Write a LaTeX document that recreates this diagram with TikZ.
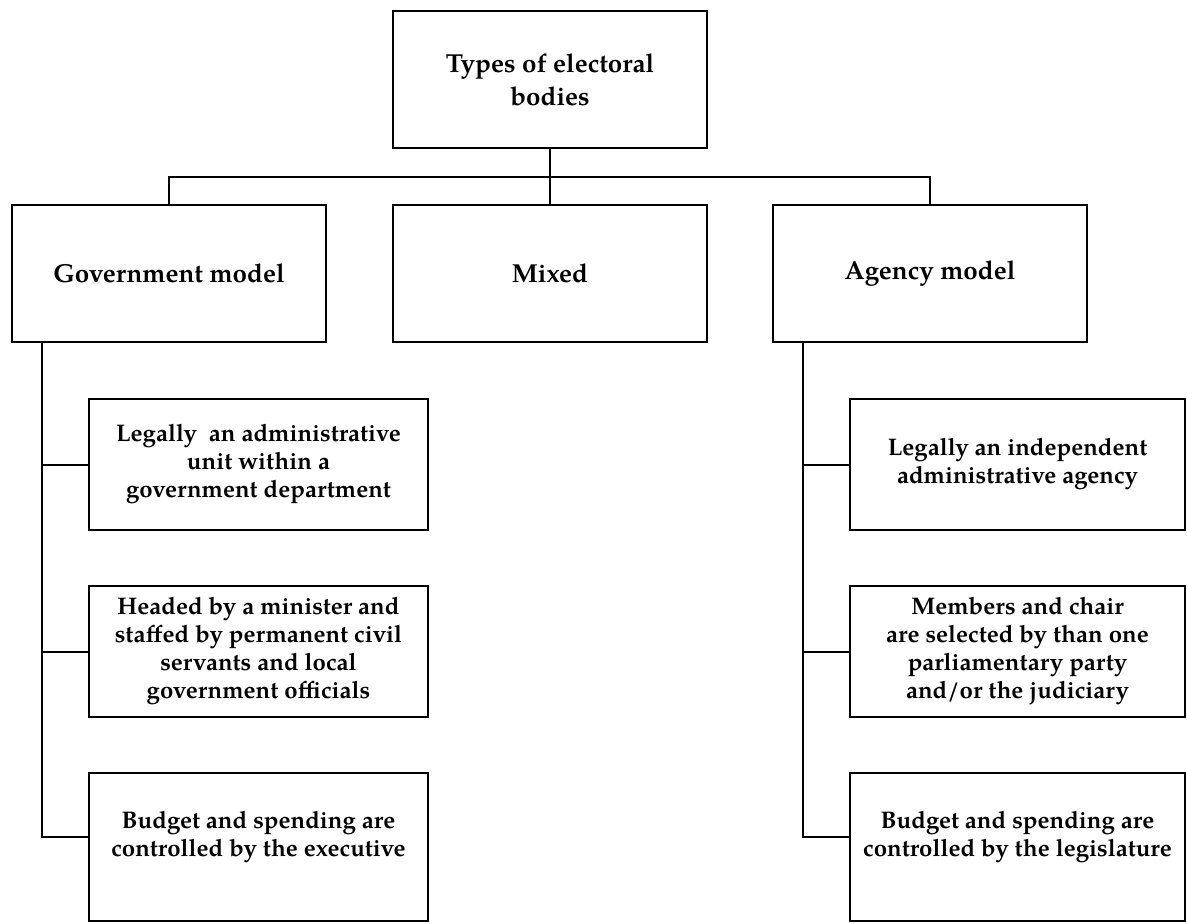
\documentclass[tikz,border=0pt]{standalone}
\usepackage{fontspec}
\setmainfont{TeX Gyre Pagella}
\begin{document}
\begin{tikzpicture}[x=0.5pt,y=-0.5pt,
  box/.style={draw=black, line width=1pt, inner sep=0pt, align=center, font=\fontsize{12}{14}\selectfont\bfseries},
  midbox/.style={box, minimum width=157pt, minimum height=68.5pt, font=\fontsize{13}{16.5}\selectfont\bfseries},
  lsub/.style={box, minimum width=169.5pt, minimum height=65.5pt},
  rsub/.style={box, minimum width=167.5pt, minimum height=65.5pt},
  conn/.style={draw=black, line width=1pt},
  spine/.style={draw=black, line width=1.4pt}]
\useasboundingbox (0,0) rectangle (1187,924);
% top and second row
\node[midbox] (top) at (550,79.5) {Types of electoral\\bodies};
\node[midbox] (gov) at (169,273.5) {Government model};
\node[midbox] (mixed) at (550,273.5) {Mixed};
\node[midbox] (agency) at (930,273.5) {Agency model};
% left column
\node[lsub] (g1) at (258.5,464.5) {Legally\ \ an administrative\\unit within a\\government department};
\node[lsub] (g2) at (258.5,651.5) {Headed by a minister and\\staffed by permanent civil\\servants and local\\government officials};
\node[lsub, minimum height=74pt] (g3) at (258.5,847) {\parbox[c][74pt][c]{169.5pt}{\centering Budget and spending are\\controlled by the executive\par\vspace*{10pt}}};
% right column
\node[rsub] (a1) at (1017.5,464.5) {Legally an independent\\administrative agency};
\node[rsub] (a2) at (1017.5,651.5) {Members and chair\\are selected by than one\\parliamentary party\\and/or the judiciary};
\node[rsub, minimum height=74pt] (a3) at (1017.5,847) {\parbox[c][74pt][c]{167.5pt}{\centering Budget and spending are\\controlled by the legislature\par\vspace*{10pt}}};
% connectors
\coordinate (bus) at (550,177);
\draw[conn] (top.south) -- (mixed.north);
\draw[conn] (gov.north) |- (bus) -| (agency.north);
\coordinate (ls) at ([xshift=15.5pt]gov.south west);
\coordinate (rs) at ([xshift=15.5pt]agency.south west);
\draw[conn] (ls) |- ([yshift=5pt]g3.west);
\draw[conn] (ls |- g1.west) -- (g1.west);
\draw[conn] (ls |- g2.west) -- (g2.west);
\draw[spine] (rs) |- ([yshift=5pt]a3.west);
\draw[conn] (rs |- a1.west) -- (a1.west);
\draw[conn] (rs |- a2.west) -- (a2.west);
\end{tikzpicture}
\end{document}
